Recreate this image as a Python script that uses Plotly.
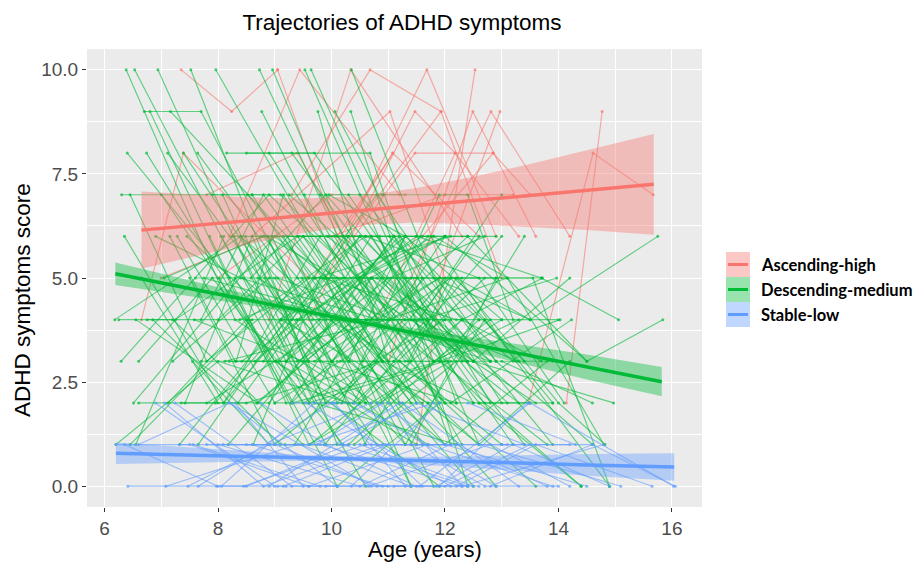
import plotly.graph_objects as go

# ---------------- data ----------------
groups = ["Ascending-high", "Descending-medium", "Stable-low"]

red_age = [
    [7.35, 8.24, 9.05], [6.65, 7.39, 9.6], [9.05, 10.1, 11.08], [8.2, 9.44, 11.2],
    [8.9, 10.34, 12.3], [9.3, 10.68, 11.93], [9.9, 11.68, 12.9], [11.5, 12.53],
    [8.6, 11.03, 12.0], [9.6, 11.47, 12.18], [10.3, 11.93, 13.0], [11.0, 12.49, 13.6],
    [11.4, 12.81, 14.2], [11.9, 12.97], [13.47, 14.61, 15.67], [14.14, 14.77],
    [9.7, 11.08, 12.6], [10.4, 11.47, 12.85], [10.8, 12.18, 13.3], [11.6, 12.85, 13.5],
    [7.8, 9.4, 10.2], [8.0, 10.0, 11.3], [10.0, 12.0, 13.2], [7.0, 8.8, 10.7],
]
red_score = [
    [10, 9, 10], [4, 8, 5], [10, 6, 8], [6, 10, 7],
    [4, 10, 6], [7, 10, 9], [5, 10, 6], [1, 10],
    [6, 9, 5], [4, 9, 8], [6, 9, 5], [3, 9, 6],
    [5, 9, 6], [5, 9], [2, 8, 7], [2, 9],
    [5, 8, 6], [6, 8, 8], [4, 8, 6], [6, 8, 7],
    [7, 8, 6], [5, 7, 7], [6, 7, 7], [5, 6, 6],
]

green_age = [
    [6.18, 8.4, 10.9], [6.29, 8.9, 11.3], [6.38, 8.3, 10.6], [6.40, 8.2], [6.45, 7.8, 9.6],
    [6.51, 9.0, 11.8], [6.53, 9.2, 11.0], [6.55, 8.1], [6.55, 8.7, 10.4], [6.70, 7.70, 10.0],
    [6.74, 9.0, 11.5], [6.75, 9.4], [6.80, 9.2], [6.94, 9.6, 12.0], [7.00, 9.5, 12.0],
    [7.05, 8.8, 11.2], [7.11, 9.3], [7.16, 9.9, 11.4], [7.20, 8.9, 10.7], [7.32, 9.1, 11.6],
    [7.39, 10.8], [7.45, 9.8, 12.2], [7.52, 10.1], [7.60, 9.0, 10.5], [7.64, 10.3, 11.3],
    [7.65, 9.7], [7.80, 10.2, 12.6], [7.90, 9.1, 11.8], [7.96, 10.9, 12.5], [8.00, 9.5, 11.0],
    [8.05, 10.6], [8.15, 9.7, 11.7], [8.20, 10.0, 12.1], [8.30, 9.9], [8.35, 10.5, 12.8],
    [8.40, 11.0], [8.50, 10.68, 12.2], [8.55, 10.1, 11.9], [8.60, 10.9], [8.62, 9.8, 12.3],
    [8.70, 11.2, 13.0], [8.73, 11.5], [8.77, 10.6, 12.8], [8.80, 10.3], [8.85, 11.4, 13.3],
    [8.90, 11.3], [8.96, 10.2, 12.3], [9.00, 10.4, 12.7], [9.05, 11.1], [9.10, 10.8, 12.9],
    [9.15, 11.6], [9.20, 10.5, 12.0], [9.25, 11.8, 13.5], [9.30, 10.9, 13.1], [9.35, 10.7],
    [9.40, 11.5, 13.2], [9.45, 12.0], [9.50, 11.0, 12.6], [9.53, 11.8, 13.3], [9.60, 11.3],
    [9.64, 12.6], [9.70, 11.9, 13.7], [9.76, 11.2], [9.80, 11.9], [9.85, 12.2, 14.0],
    [9.90, 11.4], [9.95, 12.4], [10.00, 11.7, 13.4], [10.06, 11.6, 13.0], [10.10, 12.0],
    [10.15, 12.5, 14.2], [10.20, 11.8], [10.25, 12.9], [10.30, 12.3, 13.9], [10.34, 12.4],
    [10.35, 12.1, 13.9], [10.40, 12.2], [10.45, 12.7, 14.4], [10.50, 12.9, 14.6], [10.55, 12.0],
    [10.60, 12.6, 14.1], [10.70, 13.0], [10.80, 12.5], [10.90, 12.4, 13.2], [11.00, 13.1, 14.8],
    [11.10, 12.8], [11.20, 13.6], [11.30, 13.55, 14.9], [11.40, 12.9], [11.50, 13.7, 15.06],
    [11.60, 13.97], [11.70, 13.5], [11.80, 13.5, 15.75], [11.90, 14.03], [12.00, 14.5, 15.84],
    [12.10, 14.23], [12.20, 14.0, 14.82], [12.30, 13.72], [12.40, 14.5], [12.50, 14.97],
    [12.60, 14.4], [12.70, 14.9], [13.00, 14.6], [6.20, 8.0, 10.3], [6.45, 8.6],
    [6.60, 8.9, 11.1], [6.85, 9.1], [7.25, 9.4, 11.5], [7.35, 8.5, 10.9], [7.70, 9.2, 11.7],
    [7.75, 10.4], [7.85, 9.6, 12.1], [8.10, 9.9, 11.8], [8.25, 10.8, 12.4], [8.45, 10.0],
    [8.65, 11.3, 13.0], [8.95, 10.6], [9.12, 11.7], [9.28, 10.7, 12.4], [9.42, 11.1],
    [9.58, 10.8, 12.8], [9.72, 12.1], [9.88, 11.1, 13.0], [10.05, 11.4], [10.22, 12.0, 13.8],
    [10.38, 11.6], [10.62, 12.3], [10.75, 12.6, 14.2], [10.85, 12.1], [11.05, 12.7],
    [11.25, 12.5], [11.45, 13.3], [7.15, 8.3, 10.1], [7.55, 8.9], [8.02, 9.3, 11.4],
    [8.38, 10.2], [8.82, 9.9, 11.6], [9.18, 10.3, 12.6], [9.48, 10.6], [9.66, 11.4, 13.6],
    [6.25, 7.2, 9.5], [6.65, 8.0], [6.90, 8.4, 10.8], [7.42, 8.6, 9.9], [8.12, 11.0],
    [8.48, 9.6], [9.02, 11.9], [9.38, 12.0], [10.12, 11.3], [10.48, 11.8, 13.1],
    [6.30, 8.6, 10.0], [8.75, 10.1, 11.8], [9.95, 11.3, 12.9],
    [7.50, 9.0, 10.8], [7.70, 8.8, 11.4], [7.95, 10.5], [8.08, 9.4, 11.9], [8.18, 10.7],
    [8.28, 9.7, 12.2], [8.42, 11.5], [8.58, 9.9, 12.5], [8.68, 10.4], [8.88, 10.1, 12.0],
    [9.08, 11.2, 13.4], [9.22, 10.2], [9.32, 11.9, 13.8], [9.52, 10.9, 12.4], [9.62, 12.3],
    [9.78, 10.7, 12.5], [9.92, 12.8], [10.02, 11.3, 12.7], [10.18, 11.9], [10.28, 12.6, 13.9],
    [10.42, 11.7], [10.58, 12.2, 13.5], [10.72, 12.0], [10.88, 12.3, 13.7], [11.02, 12.6],
    [11.15, 13.2], [11.35, 12.1, 13.9], [11.55, 13.0], [11.75, 13.25], [12.05, 13.4],
    [6.35, 8.1, 9.8], [6.60, 7.9, 10.2], [7.12, 8.5, 10.6], [7.28, 9.0, 11.3], [7.58, 9.5, 11.1],
    [8.32, 9.15, 10.9], [8.52, 10.3, 12.0], [9.12, 10.0, 11.5], [9.68, 10.5, 12.9], [10.32, 11.1, 12.4],
]
green_score = [
    [4, 6, 3], [3, 7, 4], [10, 4, 2], [8, 5], [7, 3, 5],
    [2, 6, 3], [10, 3, 5], [1, 6], [4, 2, 4], [9, 9, 3],
    [8, 3, 1], [4, 4], [9, 2], [10, 2, 3], [7, 2, 4],
    [5, 6, 2], [8, 4], [9, 5, 0], [3, 5, 5], [1, 4, 6],
    [8, 1], [6, 3, 2], [10, 1], [5, 5, 2], [8, 3, 6],
    [1, 5], [2, 4, 1], [7, 7, 3], [10, 3, 2], [4, 6, 4],
    [6, 0], [8, 8, 4], [3, 3, 5], [5, 1], [2, 6, 3],
    [6, 2], [8, 8, 2], [4, 0, 2], [7, 7], [1, 5, 5],
    [5, 3, 1], [10, 2], [9, 4, 3], [3, 6], [6, 4, 2],
    [8, 3], [10, 6, 1], [2, 2, 5], [5, 4], [4, 7, 3],
    [6, 1], [3, 5, 6], [7, 4, 2], [8, 5, 2], [1, 4],
    [5, 5, 3], [4, 1], [6, 3, 6], [10, 3, 4], [2, 6],
    [10, 1], [3, 5, 5], [9, 2], [7, 2], [5, 4, 4],
    [4, 0], [6, 6], [2, 4, 1], [9, 5, 2], [5, 2],
    [3, 3, 5], [6, 4], [4, 0], [7, 3, 3], [9, 0],
    [10, 4, 1], [1, 3], [5, 2, 0], [7, 3, 1], [3, 6],
    [6, 5, 2], [2, 4], [5, 3], [7, 7, 4], [4, 5, 1],
    [6, 2], [3, 0], [5, 5, 0], [1, 5], [6, 5, 4],
    [4, 5], [2, 2], [5, 4, 6], [3, 4], [6, 3, 4],
    [2, 4], [5, 2, 1], [4, 5], [6, 3], [3, 2],
    [2, 0], [4, 0], [3, 2], [1, 3, 2], [1, 4],
    [2, 2, 6], [4, 1], [4, 6, 2], [2, 2, 3], [3, 3, 1],
    [5, 4], [6, 1, 3], [2, 5, 0], [6, 6, 3], [5, 3],
    [3, 6, 4], [6, 1], [4, 2], [2, 5, 3], [6, 6],
    [3, 2, 4], [5, 6], [1, 3, 6], [6, 3], [4, 1, 3],
    [2, 5], [4, 4], [3, 1, 3], [6, 1], [5, 6],
    [2, 0], [4, 3], [6, 3, 3], [3, 1], [5, 2, 5],
    [4, 5], [5, 2, 2], [1, 1, 4], [5, 2], [4, 4, 2],
    [4, 4, 1], [5, 2], [6, 5, 4], [2, 6, 2], [3, 4],
    [6, 3], [3, 0], [4, 6], [4, 1], [5, 6, 5],
    [7, 7, 4], [6, 6, 6], [7, 6, 6],
    [5, 1, 3], [4, 7, 2], [2, 6], [7, 3, 5], [1, 5],
    [6, 2, 1], [3, 6], [5, 7, 3], [2, 4], [6, 2, 5],
    [3, 6, 3], [6, 3], [2, 3, 1], [7, 4, 6], [1, 4],
    [4, 6, 2], [6, 3], [3, 1, 4], [2, 7], [6, 2, 2],
    [4, 6], [1, 5, 4], [5, 2], [2, 4, 3], [6, 4],
    [5, 1], [3, 5, 2], [4, 7], [6, 3], [3, 6],
    [6, 2, 6], [3, 5, 1], [2, 4, 6], [6, 2, 4], [4, 3, 6],
    [3, 7, 3], [7, 4, 4], [4, 4, 4], [5, 5, 5], [3, 3, 3],
]

blue_age = [
    [6.20, 7.5, 9.6], [6.35, 8.0], [6.41, 8.5, 10.3], [7.06, 8.8, 10.9], [7.08, 9.4],
    [7.24, 9.3, 11.0], [7.32, 9.0], [7.47, 8.9, 10.7], [7.56, 9.8], [7.65, 10.0, 11.6],
    [7.97, 9.2], [8.00, 10.5, 12.1], [8.06, 9.7], [8.09, 10.2, 12.4], [8.30, 9.5],
    [8.45, 10.6, 12.0], [8.60, 10.9], [8.75, 9.9, 11.5], [8.90, 11.2], [9.00, 10.8, 12.6],
    [9.15, 11.0], [9.30, 10.4, 12.9], [9.45, 11.4], [9.60, 11.7, 13.1], [9.75, 10.9],
    [9.90, 12.0, 13.5], [10.05, 11.3], [10.20, 12.2, 13.8], [10.35, 11.9], [10.50, 12.5],
    [10.65, 12.8, 14.2], [10.80, 12.0], [10.95, 13.0, 14.6], [11.10, 12.4], [11.25, 13.3],
    [11.40, 12.7, 14.0], [11.55, 13.5, 16.03], [11.70, 13.9], [11.85, 13.2, 14.9], [12.00, 14.5],
    [12.20, 13.6, 15.65], [12.40, 14.3], [12.60, 15.1], [12.80, 14.6, 16.06], [13.00, 14.2],
    [6.60, 8.2, 10.1], [6.90, 9.0], [7.80, 9.6, 11.8], [8.20, 10.7], [8.50, 9.8, 12.3],
    [9.05, 10.1], [9.55, 12.1], [10.15, 11.5, 13.4], [10.70, 11.6], [11.00, 12.3, 14.8],
    [11.90, 13.45],
]
blue_score = [
    [1, 1, 0], [1, 0], [0, 0, 1], [2, 0, 1], [0, 1],
    [2, 0, 0], [1, 1], [0, 1, 2], [1, 0], [0, 2, 0],
    [0, 0], [1, 0, 1], [0, 2], [1, 1, 0], [2, 0],
    [0, 1, 1], [1, 0], [2, 1, 0], [0, 2], [1, 0, 0],
    [0, 1], [2, 2, 0], [1, 0], [0, 1, 1], [1, 2],
    [0, 0, 1], [2, 0], [1, 1, 0], [0, 2], [1, 0],
    [0, 1, 0], [2, 1], [1, 1, 1], [0, 0], [2, 0],
    [1, 0, 0], [0, 2, 0], [1, 0], [0, 1, 0], [1, 0],
    [0, 1, 0], [2, 1], [1, 0], [0, 1, 0], [1, 1],
    [1, 2, 0], [2, 0], [1, 1, 2], [2, 0], [1, 1, 0],
    [0, 0], [2, 0], [1, 2, 1], [1, 1], [2, 0, 1],
    [0, 2],
]

# fitted trends with confidence bands
red_fit_age = [6.65, 7.5, 8.5, 9.5, 10.5, 11.5, 12.5, 13.5, 14.5, 15.68]
red_fit = [6.15, 6.25, 6.37, 6.49, 6.62, 6.74, 6.86, 6.98, 7.11, 7.25]
red_lo = [5.22, 5.49, 5.80, 6.08, 6.27, 6.33, 6.29, 6.22, 6.15, 6.04]
red_hi = [7.08, 7.01, 6.94, 6.91, 6.97, 7.16, 7.43, 7.74, 8.07, 8.46]

green_fit_age = [6.19, 7.5, 8.5, 9.5, 10.5, 11.5, 12.5, 13.5, 14.5, 15.82]
green_fit = [5.10, 4.75, 4.48, 4.21, 3.94, 3.67, 3.40, 3.13, 2.86, 2.51]
green_lo = [4.83, 4.56, 4.36, 4.13, 3.87, 3.56, 3.23, 2.90, 2.56, 2.16]
green_hi = [5.37, 4.94, 4.60, 4.29, 4.01, 3.78, 3.57, 3.36, 3.16, 2.86]

blue_fit_age = [6.2, 7.5, 8.5, 9.5, 10.5, 11.5, 12.5, 13.5, 14.5, 16.04]
blue_fit = [0.79, 0.75, 0.71, 0.68, 0.65, 0.61, 0.58, 0.55, 0.51, 0.46]
blue_lo = [0.53, 0.57, 0.59, 0.61, 0.59, 0.52, 0.44, 0.35, 0.25, 0.13]
blue_hi = [1.05, 0.93, 0.83, 0.75, 0.71, 0.70, 0.72, 0.75, 0.77, 0.79]

x_ticks = [6, 8, 10, 12, 14, 16]
y_ticks = [0, 2.5, 5, 7.5, 10]
y_ticktext = ["0.0", "2.5", "5.0", "7.5", "10.0"]

# ---------------- styling ----------------
rgb = {"Ascending-high": (248, 118, 109), "Descending-medium": (0, 186, 56), "Stable-low": (97, 156, 255)}


def rgba(c, a):
    return f"rgba({c[0]},{c[1]},{c[2]},{a})"


fig = go.Figure()

indiv = [("Ascending-high", red_age, red_score),
         ("Descending-medium", green_age, green_score),
         ("Stable-low", blue_age, blue_score)]

for name, ages, scores in indiv:
    c = rgb[name]
    for a, s in zip(ages, scores):
        fig.add_trace(go.Scatter(
            x=a, y=s, mode="lines+markers",
            line=dict(color=rgba(c, 0.6), width=1.15),
            marker=dict(color=rgba(c, 0.7), size=3),
            showlegend=False, hoverinfo="skip"))

fits = [("Ascending-high", red_fit_age, red_fit, red_lo, red_hi),
        ("Descending-medium", green_fit_age, green_fit, green_lo, green_hi),
        ("Stable-low", blue_fit_age, blue_fit, blue_lo, blue_hi)]

for name, a, f, lo, hi in fits:
    c = rgb[name]
    fig.add_trace(go.Scatter(
        x=list(a) + list(a)[::-1], y=list(hi) + list(lo)[::-1],
        fill="toself", fillcolor=rgba(c, 0.4), line=dict(width=0),
        mode="lines", showlegend=False, hoverinfo="skip"))
    fig.add_trace(go.Scatter(
        x=a, y=f, mode="lines", line=dict(color=rgba(c, 1), width=3.5),
        name=name, showlegend=False, hoverinfo="skip"))

# panel geometry in pixels
W, H = 921, 562
L, R, T, B = 87, 702, 49, 507

fig.update_layout(
    width=W, height=H,
    margin=dict(l=L, r=W - R, t=T, b=H - B),
    paper_bgcolor="white", plot_bgcolor="#EBEBEB",
    font=dict(family="Liberation Sans, Arial, sans-serif", color="#000000"),
    title=dict(text="Trajectories of ADHD symptoms", x=(402 - L) / (R - L), xref="paper",
               xanchor="center", y=1 - 22 / H, yref="container", yanchor="middle",
               font=dict(size=22.5, color="#000000")),
    showlegend=False,
    hovermode=False,
)

fig.update_xaxes(
    range=[5.69, 16.53], tickvals=x_ticks, ticktext=[str(v) for v in x_ticks],
    showgrid=True, gridcolor="white", gridwidth=1.3, zeroline=False,
    ticks="outside", ticklen=4, tickcolor="#333333", tickwidth=1,
    tickfont=dict(size=19, color="#4D4D4D"),
    minor=dict(dtick=1, tick0=5, showgrid=True, gridcolor="white", gridwidth=0.6, ticks=""),
    showline=False,
)
fig.update_yaxes(
    range=[-0.5, 10.5], tickvals=y_ticks, ticktext=y_ticktext,
    showgrid=True, gridcolor="white", gridwidth=1.3, zeroline=False,
    ticks="outside", ticklen=4, tickcolor="#333333", tickwidth=1,
    tickfont=dict(size=19, color="#4D4D4D"),
    minor=dict(tickvals=[1.25, 3.75, 6.25, 8.75], showgrid=True, gridcolor="white", gridwidth=0.6, ticks=""),
    showline=False,
)

pw, ph = R - L, B - T
annotations = [
    dict(text="Age (years)", xref="paper", yref="paper", x=(425 - L) / pw, y=0,
         yshift=-(549 - B), xanchor="center", yanchor="middle", showarrow=False,
         font=dict(size=22, color="#000000")),
    dict(text="ADHD symptoms score", xref="paper", yref="paper", x=0, xshift=22 - L,
         y=(B - 300) / ph, xanchor="center", yanchor="middle", textangle=-90, showarrow=False,
         font=dict(size=22.5, color="#000000")),
]

shapes = []
key_x0, key_x1 = (726 - L) / pw, (750 - L) / pw
row_top = [252, 277, 302]
for i, name in enumerate(groups):
    c = rgb[name]
    y1 = (B - row_top[i]) / ph
    y0 = (B - row_top[i] - 25) / ph
    shapes.append(dict(type="rect", xref="paper", yref="paper", x0=key_x0, x1=key_x1, y0=y0, y1=y1,
                       fillcolor=rgba(c, 0.4), line=dict(width=0)))
    ym = (y0 + y1) / 2
    shapes.append(dict(type="line", xref="paper", yref="paper", x0=(728 - L) / pw, x1=(748 - L) / pw,
                       y0=ym, y1=ym, line=dict(color=rgba(c, 1), width=3)))
    annotations.append(dict(text=f"<b>{name}</b>", xref="paper", yref="paper", x=(759 - L) / pw, y=ym,
                            xanchor="left", yanchor="middle", showarrow=False,
                            font=dict(size=16.5, family="Lato, Open Sans, sans-serif", color="#000000")))

fig.update_layout(annotations=annotations, shapes=shapes)

fig.write_html("out.html", config={"displayModeBar": False},
               post_script="document.body.style.margin='0';document.body.style.padding='0';")
